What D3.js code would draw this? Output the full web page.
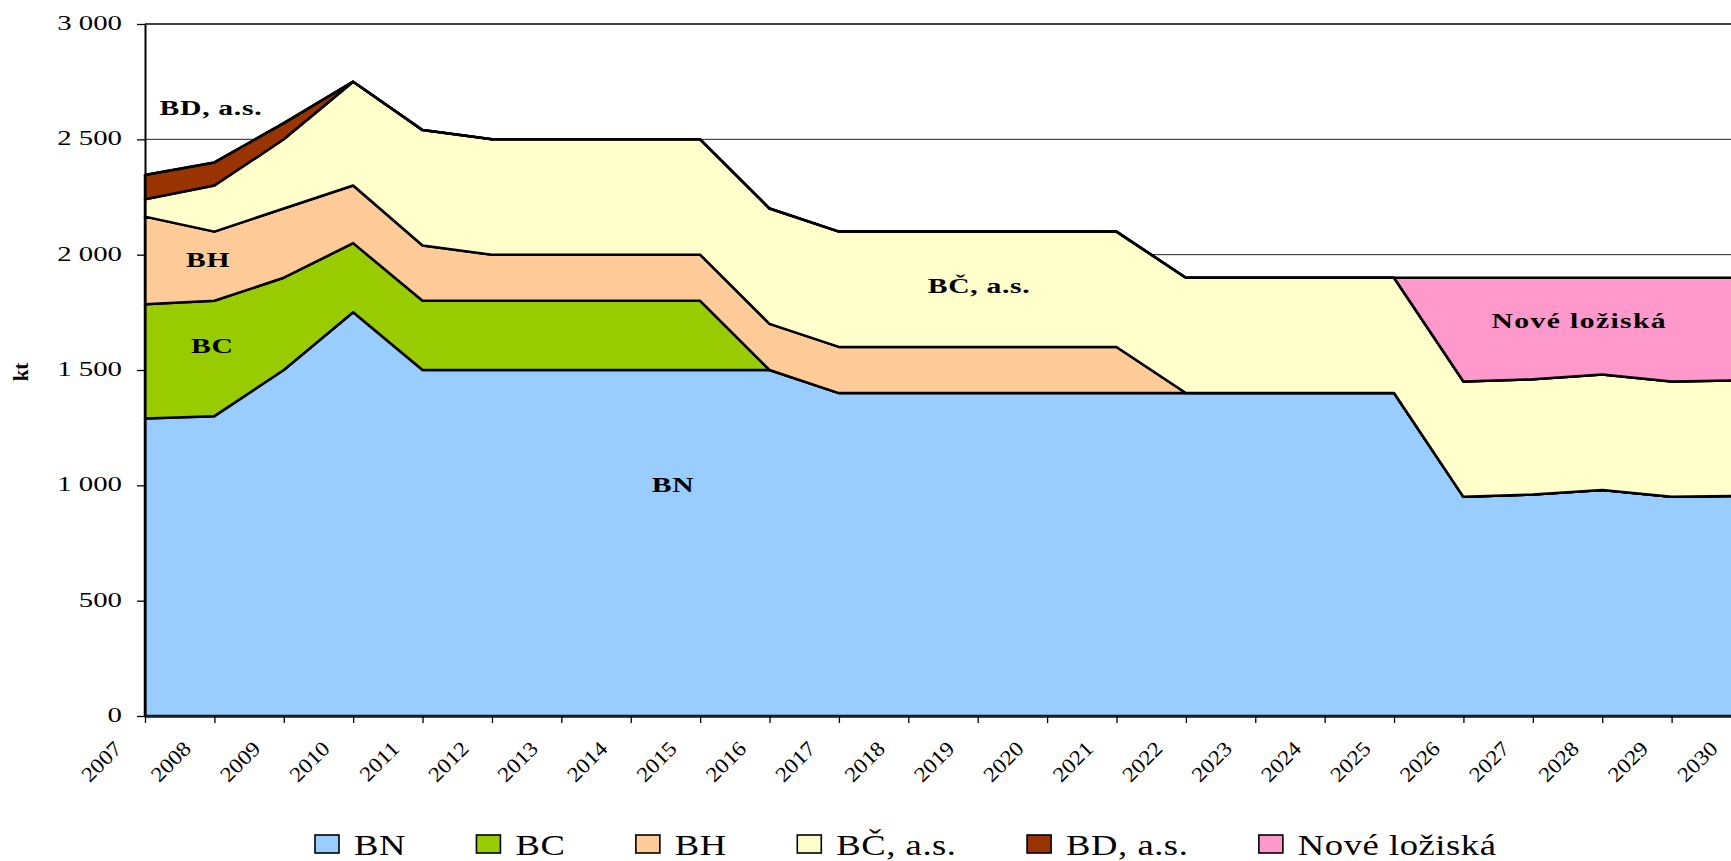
<!DOCTYPE html>
<html>
<head>
<meta charset="utf-8">
<script src="https://cdn.jsdelivr.net/npm/d3@7"></script>
<style>
  body { margin: 0; background: #fff; }
  svg { display: block; }
  text { font-family: "Liberation Serif", "Times New Roman", serif; fill: #000; }
</style>
</head>
<body>
<svg id="chart" width="1731" height="861"></svg>
<script>
// categories
const years = [2007, 2008, 2009, 2010, 2011, 2012, 2013, 2014, 2015, 2016, 2017, 2018,
               2019, 2020, 2021, 2022, 2023, 2024, 2025, 2026, 2027, 2028, 2029, 2030];

// series values (kt)
const bn   = [1290, 1300, 1500, 1750, 1500, 1500, 1500, 1500, 1500, 1500, 1400, 1400,
              1400, 1400, 1400, 1400, 1400, 1400, 1400, 950, 960, 980, 950, 955];
const bc   = [495, 500, 400, 300, 300, 300, 300, 300, 300, 0, 0, 0,
              0, 0, 0, 0, 0, 0, 0, 0, 0, 0, 0, 0];
const bh   = [380, 300, 300, 250, 240, 200, 200, 200, 200, 200, 200, 200,
              200, 200, 200, 0, 0, 0, 0, 0, 0, 0, 0, 0];
const bcas = [75, 200, 300, 450, 500, 500, 500, 500, 500, 500, 500, 500,
              500, 500, 500, 500, 500, 500, 500, 500, 500, 500, 500, 500];
const bdas = [105, 100, 70, 0, 0, 0, 0, 0, 0, 0, 0, 0,
              0, 0, 0, 0, 0, 0, 0, 0, 0, 0, 0, 0];
const nove = [0, 0, 0, 0, 0, 0, 0, 0, 0, 0, 0, 0,
              0, 0, 0, 0, 0, 0, 0, 450, 440, 420, 450, 445];

const seriesNames = ["BN", "BC", "BH", "BČ, a.s.", "BD, a.s.", "Nové ložiská"];
const seriesData = [bn, bc, bh, bcas, bdas, nove];
const colors = ["#99CCFF", "#99CC00", "#FFCC99", "#FFFFCC", "#993300", "#FF99CC"];

// y tick values
const yTicks = [0, 500, 1000, 1500, 2000, 2500, 3000];

const svg = d3.select("#chart");

const x = d3.scaleLinear().domain([2007, 2030]).range([145, 1741]);
const y = d3.scaleLinear().domain([0, 3000]).range([716, 24]);

const rows = years.map((yr, i) => {
  const r = { year: yr };
  seriesNames.forEach((n, k) => r[n] = seriesData[k][i]);
  return r;
});
const stacked = d3.stack().keys(seriesNames)(rows);

// gridlines (behind the areas)
svg.append("g")
  .selectAll("line")
  .data(yTicks.filter(d => d > 0))
  .join("line")
  .attr("x1", 145).attr("x2", 1731)
  .attr("y1", d => y(d)).attr("y2", d => y(d))
  .attr("stroke", d => d === 3000 ? "#000" : "#222")
  .attr("stroke-width", d => d === 3000 ? 1.6 : 1);

const area = d3.area()
  .x(d => x(d.data.year))
  .y0(d => y(d[0]))
  .y1(d => y(d[1]));

svg.append("g")
  .selectAll("path")
  .data(stacked)
  .join("path")
  .attr("d", area)
  .attr("fill", (d, i) => colors[i])
  .attr("stroke", "#000")
  .attr("stroke-width", 2.5)
  .attr("stroke-linejoin", "round");

// y axis
const yAxis = svg.append("g")
  .attr("transform", "translate(145,0)")
  .call(d3.axisLeft(y).tickValues(yTicks).tickSize(8).tickSizeOuter(0).tickFormat(""));
yAxis.select(".domain").attr("stroke", "#000").attr("stroke-width", 2);
yAxis.selectAll(".tick line").attr("stroke", "#000").attr("stroke-width", 1.3);

const fmt = v => d3.format(",")(v).replace(/,/g, " ");
svg.append("g")
  .selectAll("text")
  .data(yTicks)
  .join("text")
  .attr("transform", d => `translate(122,${y(d) + 6}) scale(1.44,1)`)
  .attr("text-anchor", "end")
  .style("font-size", "20px")
  .text(fmt);

// x axis
const xAxis = svg.append("g")
  .attr("transform", "translate(0,716)")
  .call(d3.axisBottom(x).tickValues(years).tickSize(7).tickSizeOuter(0).tickFormat(""));
xAxis.select(".domain").attr("stroke", "#222").attr("stroke-width", 2.4);
xAxis.selectAll(".tick line").attr("stroke", "#000").attr("stroke-width", 1.3);

svg.append("g")
  .selectAll("text")
  .data(years)
  .join("text")
  .attr("transform", d => `translate(${x(d) - 22},750) rotate(-45) scale(1.12,1)`)
  .attr("text-anchor", "end")
  .style("font-size", "21px")
  .text(d => d);

// y axis title
svg.append("text")
  .attr("transform", "translate(28,372) rotate(-90)")
  .attr("text-anchor", "middle")
  .style("font-size", "21px")
  .style("font-weight", "bold")
  .text("kt");

// labels inside the areas, placed in data coordinates
const areaLabels = [
  { text: "BD, a.s.",     year: 2007.95, value: 2605 },
  { text: "BH",           year: 2007.91, value: 1948 },
  { text: "BC",           year: 2007.97, value: 1575 },
  { text: "BN",           year: 2014.61, value: 972 },
  { text: "BČ, a.s.",     year: 2019.02, value: 1835 },
  { text: "Nové ložiská", year: 2027.67, value: 1681 }
];
svg.append("g")
  .selectAll("text")
  .data(areaLabels)
  .join("text")
  .attr("transform", d => `translate(${x(d.year)},${y(d.value)}) scale(1.38,1)`)
  .attr("text-anchor", "middle")
  .style("font-size", "21.5px")
  .style("font-weight", "bold")
  .style("letter-spacing", d => d.text === "Nové ložiská" ? "1px" : "0.5px")
  .text(d => d.text);

// legend
const legend = svg.append("g");
let lx = 315;
seriesNames.forEach((name, i) => {
  legend.append("rect")
    .attr("x", lx).attr("y", 835)
    .attr("width", 24).attr("height", 18)
    .attr("fill", colors[i])
    .attr("stroke", "#000")
    .attr("stroke-width", 1.6);
  const t = legend.append("text")
    .attr("transform", `translate(${lx + 39},855) scale(1.22,1)`)
    .style("font-size", "30px")
    .style("letter-spacing", "0.45px")
    .text(name);
  const w = t.node().getComputedTextLength() * 1.22;
  lx += 39 + w + 70.5;
});
</script>
</body>
</html>
